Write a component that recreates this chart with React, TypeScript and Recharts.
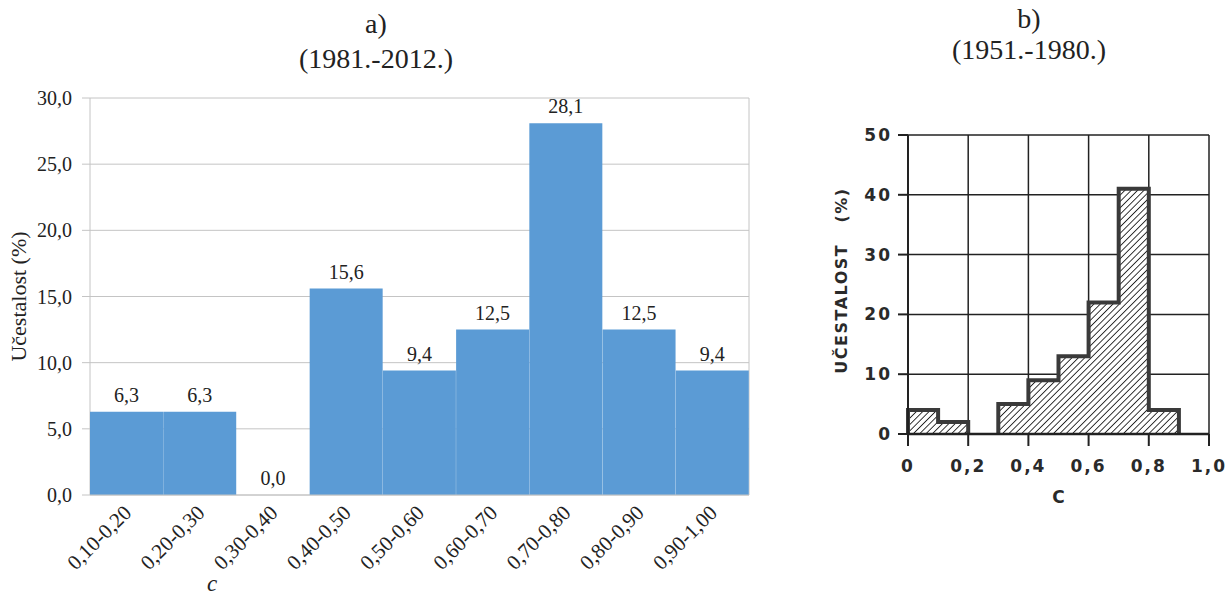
import React from 'react';
import {
  BarChart, Bar, XAxis, YAxis, CartesianGrid, LabelList,
  ComposedChart, Area,
} from 'recharts';

// a) 1981.-2012.
const rangesA = ['0,10-0,20', '0,20-0,30', '0,30-0,40', '0,40-0,50', '0,50-0,60', '0,60-0,70', '0,70-0,80', '0,80-0,90', '0,90-1,00'];
const freqA = [6.3, 6.3, 0.0, 15.6, 9.4, 12.5, 28.1, 12.5, 9.4];
const yTicksA = [0, 5, 10, 15, 20, 25, 30];
const edgesA = [0, 1, 2, 3, 4, 5, 6, 7, 8, 9];

// b) 1951.-1980.
const binStartB = [0, 0.1, 0.2, 0.3, 0.4, 0.5, 0.6, 0.7, 0.8, 0.9];
const freqB = [4, 2, 0, 5, 9, 13, 22, 41, 4, 0];
const xTicksB = [0, 0.2, 0.4, 0.6, 0.8, 1.0];
const yTicksB = [0, 10, 20, 30, 40, 50];

const serif = '"Liberation Serif", "Times New Roman", serif';
const sans = '"DejaVu Sans", sans-serif';

const comma = (v: number) => v.toFixed(1).replace('.', ',');

const dataA = rangesA.map((r, i) => ({ range: r, value: freqA[i], idx: i + 0.5 }));

// step outline of each run of non-empty bins, broken by a null between runs
const dataB: { c: number; f: number | null }[] = [];
binStartB.forEach((s, i) => {
  const f = freqB[i];
  if (f <= 0) return;
  const end = i + 1 < binStartB.length ? binStartB[i + 1] : 1.0;
  if (i === 0 || freqB[i - 1] <= 0) dataB.push({ c: s, f: 0 });
  dataB.push({ c: s, f });
  if (i + 1 >= freqB.length || freqB[i + 1] <= 0) {
    dataB.push({ c: end, f: 0 });
    dataB.push({ c: end, f: null });
  }
});

function RangeTick({ x, y, payload }: any) {
  const tx = x + 6;
  const ty = y + 11;
  return (
    <text x={tx} y={ty} transform={`rotate(-45, ${tx}, ${ty})`} textAnchor="end"
      fontFamily={serif} fontSize={21} fill="#222">
      {payload.value}
    </text>
  );
}

const tickB = { fontFamily: sans, fontWeight: 700, fontSize: 17, fill: '#2a2a2a', letterSpacing: 2 };

export default function App() {
  return (
    <div style={{ position: 'absolute', left: 0, top: 0, width: 1228, height: 607, background: '#fff', overflow: 'hidden' }}>
      <div style={{ position: 'absolute', left: 276, width: 200, top: 6, textAlign: 'center', fontFamily: serif, fontSize: 28, lineHeight: '35px', color: '#222' }}>
        a)<br />(1981.-2012.)
      </div>
      <div style={{ position: 'absolute', left: 929, width: 200, top: 3, textAlign: 'center', fontFamily: serif, fontSize: 28, lineHeight: '31px', color: '#222' }}>
        b)<br />(1951.-1980.)
      </div>
      <div style={{ position: 'absolute', left: 207, top: 571, fontFamily: serif, fontStyle: 'italic', fontSize: 23, color: '#222' }}>c</div>

      <div style={{ position: 'absolute', left: 0, top: 0 }}>
        <BarChart width={770} height={607} data={dataA} barCategoryGap={0}
          margin={{ top: 98, right: 21, left: 10, bottom: 0 }}>
          <CartesianGrid xAxisId="edges" stroke="#c4c4c4" strokeWidth={1} />
          <XAxis xAxisId="edges" type="number" dataKey="idx" domain={[0, 9]} ticks={edgesA}
            tick={false} tickSize={7} height={8} stroke="#c4c4c4" />
          <XAxis xAxisId="labels" dataKey="range" interval={0} axisLine={false} tickLine={false}
            tickSize={0} tickMargin={0} height={104} tick={<RangeTick />} />
          <YAxis domain={[0, 30]} ticks={yTicksA} width={80} axisLine={false}
            tickSize={8} tickMargin={10} tickLine={{ stroke: '#c4c4c4' }}
            tickFormatter={comma}
            tick={{ fontFamily: serif, fontSize: 20, fill: '#222' }}
            label={{
              content: (p: any) => {
                const vb = p.viewBox;
                const cx = vb.x + 8;
                const cy = vb.y + vb.height / 2;
                return (
                  <text x={cx} y={cy} transform={`rotate(-90, ${cx}, ${cy})`} textAnchor="middle"
                    dominantBaseline="central" fontFamily={serif} fontSize={22} fill="#222">
                    Učestalost (%)
                  </text>
                );
              },
            }} />
          <Bar xAxisId="labels" dataKey="value" fill="#5b9bd5" minPointSize={0.01} isAnimationActive={false}>
            <LabelList dataKey="value" position="top" offset={10} formatter={(v: any) => comma(Number(v))}
              style={{ fontFamily: serif, fontSize: 20, fill: '#222' }} />
          </Bar>
        </BarChart>
      </div>

      <div style={{ position: 'absolute', left: 820, top: 100 }}>
        <ComposedChart width={408} height={410} data={dataB}
          margin={{ top: 35, right: 19, left: 0, bottom: 16 }}>
          <defs>
            <pattern id="hatch" patternUnits="userSpaceOnUse" width="4.5" height="4.5" patternTransform="rotate(45)">
              <rect width="4.5" height="4.5" fill="#fff" />
              <line x1="0" y1="0" x2="0" y2="4.5" stroke="#222" strokeWidth="1.8" />
            </pattern>
          </defs>
          <CartesianGrid stroke="#222" strokeWidth={1.5} />
          <XAxis type="number" dataKey="c" domain={[0, 1]} ticks={xTicksB} height={60}
            axisLine={{ stroke: '#222', strokeWidth: 2.5 }} tickLine={{ stroke: '#222', strokeWidth: 2 }}
            tickSize={12} tickMargin={14}
            tickFormatter={(v: number) => (v === 0 ? '0' : comma(v))}
            tick={tickB}
            label={{
              content: (p: any) => {
                const vb = p.viewBox;
                return (
                  <text x={vb.x + vb.width / 2} y={vb.y + 63} textAnchor="middle" dominantBaseline="central"
                    style={{ fontFamily: sans, fontWeight: 700, fontSize: 17, fill: '#2a2a2a' }}>C</text>
                );
              },
            }} />
          <YAxis domain={[0, 50]} ticks={yTicksB} width={88}
            axisLine={{ stroke: '#222', strokeWidth: 2 }} tickLine={{ stroke: '#222', strokeWidth: 2 }}
            tickSize={10} tickMargin={6}
            tick={tickB}
            label={{
              content: (p: any) => {
                const vb = p.viewBox;
                const cx = vb.x + 21;
                const cy = vb.y + vb.height / 2 - 4;
                return (
                  <text x={cx} y={cy} transform={`rotate(-90, ${cx}, ${cy})`} textAnchor="middle"
                    dominantBaseline="central"
                    style={{ fontFamily: sans, fontWeight: 700, fontSize: 16, letterSpacing: 1.5, fill: '#2a2a2a', whiteSpace: 'pre' }}>
                    {'UČESTALOST   (%)'}
                  </text>
                );
              },
            }} />
          <Area type="stepAfter" dataKey="f" fill="url(#hatch)" fillOpacity={1} connectNulls={false}
            stroke="#3a3a3a" strokeWidth={4} dot={false} activeDot={false} isAnimationActive={false} />
        </ComposedChart>
      </div>
    </div>
  );
}
